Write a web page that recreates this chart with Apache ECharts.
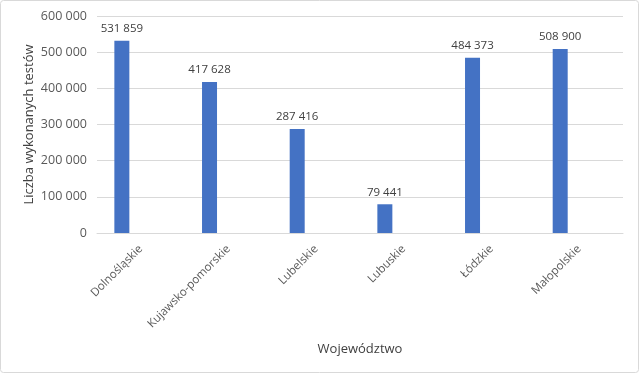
<!DOCTYPE html>
<html><head><meta charset="utf-8">
<script src="https://cdn.jsdelivr.net/npm/echarts@6/dist/echarts.min.js"></script>
<style>html,body{margin:0;padding:0;background:#fff}#c{width:640px;height:374px}</style>
</head><body><div id="c"></div>
<script>
const categories = ['Dolnośląskie','Kujawsko-pomorskie','Lubelskie','Lubuskie','Łódzkie','Małopolskie'];
const values = [531859, 417628, 287416, 79441, 484373, 508900];
const yTicks = [0, 100000, 200000, 300000, 400000, 500000, 600000];

function fmt(v){ return String(v).replace(/\B(?=(\d{3})+(?!\d))/g, ' '); }
const FONT = '"Open Sans", "Noto Sans", sans-serif';
const chart = echarts.init(document.getElementById('c'));
chart.setOption({
  animation: false,
  backgroundColor: '#fff',
  graphic: [{type:'rect', shape:{x:0.5,y:0.5,width:638,height:372, r:3}, style:{fill:'none', stroke:'#d9d9d9', lineWidth:1}, silent:true}],
  grid: {left: 97, right: 17, top: 16, bottom: 141},
  xAxis: {
    type: 'category', data: categories,
    axisLine: {lineStyle:{color:'#d9d9d9'}}, axisTick:{show:false},
    axisLabel: {rotate: 45, color:'#595959', fontSize: 11.5, fontFamily: FONT, margin: 14},
    name: 'Województwo', nameLocation: 'middle', nameGap: 110, nameMoveOverlap: false,
    nameTextStyle: {color:'#404040', fontSize: 13, fontFamily: FONT}
  },
  yAxis: {
    type: 'value', min: yTicks[0], max: yTicks[yTicks.length-1], interval: 100000,
    axisLine:{show:false}, axisTick:{show:false},
    splitLine: {lineStyle:{color:'#d9d9d9'}},
    axisLabel: {color:'#595959', fontSize: 12.5, fontFamily: FONT, margin: 10, formatter: fmt},
    name: 'Liczba wykonanych testów', nameLocation: 'middle', nameGap: 61, nameMoveOverlap: false,
    nameTextStyle: {color:'#404040', fontSize: 13, fontFamily: FONT}
  },
  series: [
    {type:'bar', data: values, barWidth: 15, barGap: '153%',
     itemStyle:{color:'#4472C4'},
     label:{show:true, position:'top', distance: 6, color:'#404040', fontSize: 11.5, fontFamily: FONT, formatter: p => fmt(p.value)}},
    {type:'bar', data: values.map(() => null), barWidth: 15, silent:true}
  ]
});
</script></body></html>
